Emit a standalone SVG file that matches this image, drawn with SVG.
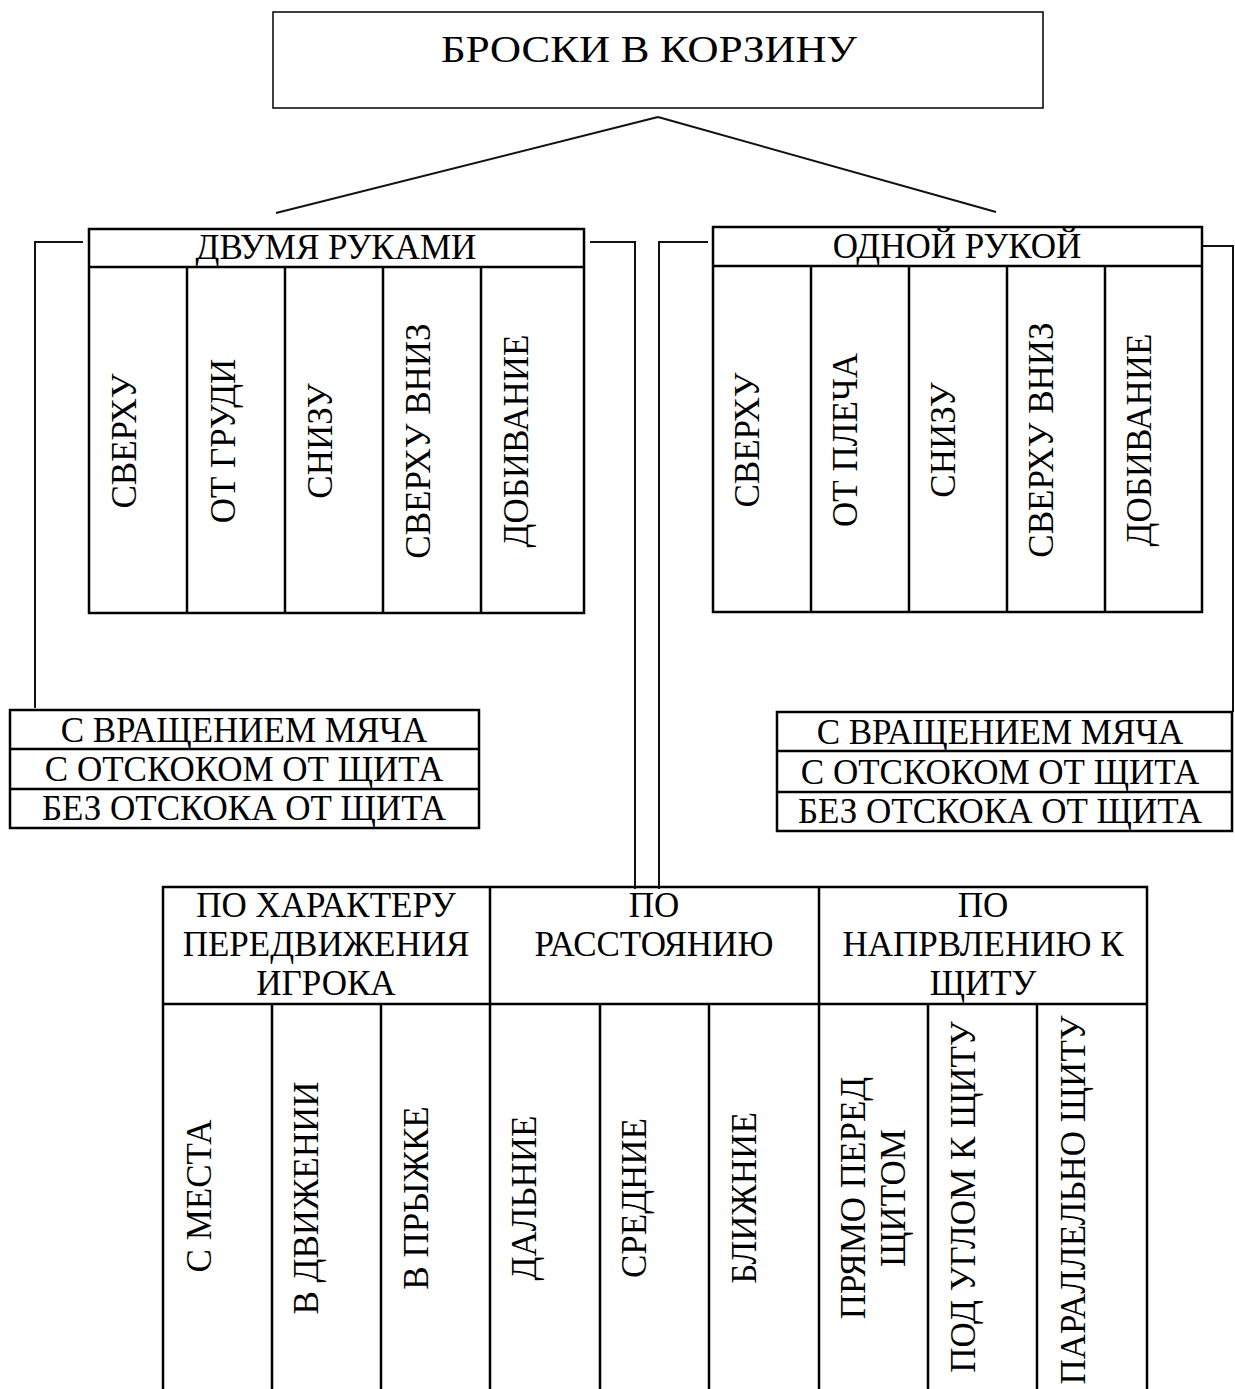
<svg xmlns="http://www.w3.org/2000/svg" width="1235" height="1389" viewBox="0 0 1235 1389">
<style>
text{font-family:"Liberation Serif","Times New Roman",serif;font-size:35px;fill:#000;text-anchor:middle}
.box{fill:#fff;stroke:#000;stroke-width:2.5}
.thin{fill:#fff;stroke:#000;stroke-width:1.5}
.ln{fill:none;stroke:#000;stroke-width:2.5}
.con{fill:none;stroke:#111;stroke-width:2}
.title{font-size:37px}
</style>
<rect x="0" y="0" width="1235" height="1389" fill="#fff"/>
<g id="connectors">
<path class="con" d="M658 117 L276 213 M658 117 L996 212"/>
<path class="con" d="M83 242 H35 V708"/>
<path class="con" d="M590 242 H635 V889"/>
<path class="con" d="M708 242 H659 V889"/>
<path class="con" d="M1199 246 H1233 V712"/>
</g>
<g id="node-root">
<rect class="thin" x="273" y="12" width="770" height="96"/>
<text class="title" x="649" y="62" textLength="416" lengthAdjust="spacingAndGlyphs">БРОСКИ В КОРЗИНУ</text>
</g>
<g id="node-two-hands">
<rect class="box" x="89" y="229" width="495" height="384"/>
<path class="ln" d="M89 267 H584 M187 267 V613 M285 267 V613 M383 267 V613 M481 267 V613"/>
<text x="336" y="259">ДВУМЯ РУКАМИ</text>
<text transform="translate(136,441) rotate(-90)">СВЕРХУ</text>
<text transform="translate(235,441) rotate(-90)">ОТ ГРУДИ</text>
<text transform="translate(332,441) rotate(-90)">СНИЗУ</text>
<text transform="translate(430,441) rotate(-90)">СВЕРХУ ВНИЗ</text>
<text transform="translate(528,441) rotate(-90)">ДОБИВАНИЕ</text>
</g>
<g id="node-one-hand">
<rect class="box" x="713" y="227" width="489" height="385"/>
<path class="ln" d="M713 266 H1202 M811 266 V612 M909 266 V612 M1007 266 V612 M1105 266 V612"/>
<text x="957" y="258">ОДНОЙ РУКОЙ</text>
<text transform="translate(759,440) rotate(-90)">СВЕРХУ</text>
<text transform="translate(857,440) rotate(-90)">ОТ ПЛЕЧА</text>
<text transform="translate(955,440) rotate(-90)">СНИЗУ</text>
<text transform="translate(1053,440) rotate(-90)">СВЕРХУ ВНИЗ</text>
<text transform="translate(1151,440) rotate(-90)">ДОБИВАНИЕ</text>
</g>
<g id="node-left-list">
<rect class="box" x="10" y="710" width="469" height="118"/>
<path class="ln" d="M10 749 H479 M10 789 H479"/>
<text x="244" y="742">С ВРАЩЕНИЕМ МЯЧА</text>
<text x="244" y="781">С ОТСКОКОМ ОТ ЩИТА</text>
<text x="244" y="820">БЕЗ ОТСКОКА ОТ ЩИТА</text>
</g>
<g id="node-right-list">
<rect class="box" x="777" y="712" width="455" height="119"/>
<path class="ln" d="M777 751 H1232 M777 792 H1232"/>
<text x="1000" y="744">С ВРАЩЕНИЕМ МЯЧА</text>
<text x="1000" y="784">С ОТСКОКОМ ОТ ЩИТА</text>
<text x="1000" y="823">БЕЗ ОТСКОКА ОТ ЩИТА</text>
</g>
<g id="node-bottom-table">
<path class="ln" d="M163 1395 V887 H1147 V1395 M163 1004 H1147 M490 887 V1395 M819 887 V1395 M272 1004 V1395 M381 1004 V1395 M600 1004 V1395 M709 1004 V1395 M928 1004 V1395 M1037 1004 V1395"/>
<text x="326" y="917">ПО ХАРАКТЕРУ</text>
<text x="326" y="956">ПЕРЕДВИЖЕНИЯ</text>
<text x="326" y="995">ИГРОКА</text>
<text x="654" y="917">ПО</text>
<text x="654" y="956">РАССТОЯНИЮ</text>
<text x="983" y="917">ПО</text>
<text x="983" y="956">НАПРВЛЕНИЮ К</text>
<text x="983" y="995">ЩИТУ</text>
<text transform="translate(211,1196) rotate(-90)">С МЕСТА</text>
<text transform="translate(318,1198) rotate(-90)">В ДВИЖЕНИИ</text>
<text transform="translate(428,1198) rotate(-90)">В ПРЫЖКЕ</text>
<text transform="translate(536,1198) rotate(-90)">ДАЛЬНИЕ</text>
<text transform="translate(646,1198) rotate(-90)">СРЕДНИЕ</text>
<text transform="translate(756,1198) rotate(-90)">БЛИЖНИЕ</text>
<text transform="translate(865,1198) rotate(-90)">ПРЯМО ПЕРЕД</text>
<text transform="translate(905,1198) rotate(-90)">ЩИТОМ</text>
<text transform="translate(975,1197) rotate(-90)">ПОД УГЛОМ К ЩИТУ</text>
<text transform="translate(1085,1200) rotate(-90)">ПАРАЛЛЕЛЬНО ЩИТУ</text>
</g>
</svg>
